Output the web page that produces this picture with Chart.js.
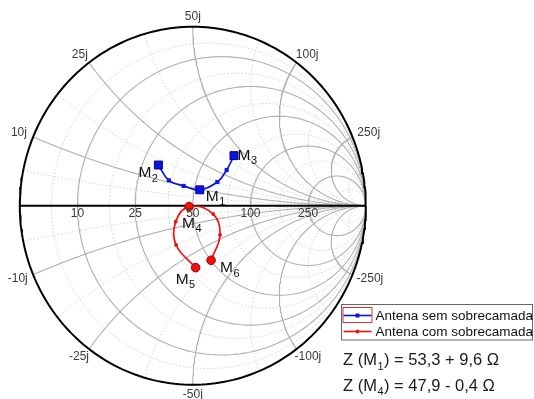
<!DOCTYPE html>
<html>
<head>
<meta charset="utf-8">
<script src="https://cdn.jsdelivr.net/npm/chart.js@4.4.1/dist/chart.umd.min.js"></script>
<style>
  html, body { margin: 0; padding: 0; background: #fff; }
  #wrap { width: 534px; height: 399px; position: relative; }
</style>
</head>
<body>
<div id="wrap"><canvas id="canvas"></canvas></div>
<script>
var Z0 = 50;

// impedance of the two sweeps, ohms
var semR = [30.5, 36.5, 43.9, 53.3, 63.8, 67.1, 65.6];
var semX = [15.3, 10.8, 9.9, 9.6, 17.6, 29.1, 42.5];
var semMarks = ['M2', '', '', 'M1', '', '', 'M3'];

var comR = [40.5, 37.7, 40.4, 47.9, 63.1, 64.4, 50.2];
var comX = [-31.8, -17.5, -7.3, -0.4, -5.9, -22.1, -34.1];
var comMarks = ['M5', '', '', 'M4', '', '', 'M6'];

var seriesNames = ['Antena sem sobrecamada', 'Antena com sobrecamada'];

// smith grid
var gridMajor = [10, 25, 50, 100, 250];
var gridMinor = [5, 17.5, 37.5, 75, 150, 500];
var realTicks = ['10', '25', '50', '100', '250'];
var reactTicks = ['10j', '25j', '50j', '100j', '250j'];

var noteLines = [['Z (M', '1', ') = 53,3 + 9,6 \u03A9'], ['Z (M', '4', ') = 47,9 - 0,4 \u03A9']];

// where the marker names sit, relative to the marker (px)
var markLabelPos = {
  M1: [6, 11], M2: [-20, 12], M3: [3.5, 4],
  M4: [-7, 21], M5: [-20, 16], M6: [9, 12]
};

function gamma(r, x) {
  var a = r / Z0, b = x / Z0;
  var d = (a + 1) * (a + 1) + b * b;
  return { x: (a * a + b * b - 1) / d, y: 2 * b / d };
}

function rCircle(r) {
  var a = r / Z0, c = a / (a + 1), rad = 1 / (a + 1), pts = [];
  for (var i = 0; i <= 240; i++) {
    var t = i / 240 * Math.PI * 2;
    pts.push({ x: c + rad * Math.cos(t), y: rad * Math.sin(t) });
  }
  return pts;
}

function xArc(x) {
  var pts = [];
  for (var i = 0; i < 200; i++) {
    var u = i / 200 * Math.PI / 2;
    pts.push(gamma(Z0 * Math.tan(u), x));
  }
  pts.push({ x: 1, y: 0 });
  return pts;
}

function gridSet(pts, color, width, dash, order) {
  return {
    data: pts, showLine: true, pointRadius: 0, borderColor: color,
    borderWidth: width, borderDash: dash, fill: false, tension: 0,
    order: order, clip: false
  };
}

var datasets = [];

function seriesSet(name, R, X, marks, color, style, big, small) {
  var pts = [], radius = [];
  for (var i = 0; i < R.length; i++) {
    pts.push(gamma(R[i], X[i]));
    radius.push(marks[i] ? big : small);
  }
  return {
    label: name, data: pts, showLine: true, borderColor: color,
    backgroundColor: color, pointBackgroundColor: color,
    pointBorderColor: style == 'rect' ? '#000080' : '#a00000',
    pointBorderWidth: marks.map(function (m) { return m ? 1 : 0; }),
    borderWidth: 1.7, pointStyle: style, pointRadius: radius,
    tension: 0.4, order: 0, marks: marks, clip: false
  };
}

datasets.push(seriesSet(seriesNames[0], semR, semX, semMarks, '#0a14e6', 'rect', 5.6, 2.9));
datasets.push(seriesSet(seriesNames[1], comR, comX, comMarks, '#f01010', 'circle', 4.3, 1.9));

gridMinor.forEach(function (v) {
  datasets.push(gridSet(rCircle(v), '#d2d2d2', 1, [1.5, 2], 30));
  datasets.push(gridSet(xArc(v), '#d2d2d2', 1, [1.5, 2], 30));
  datasets.push(gridSet(xArc(-v), '#d2d2d2', 1, [1.5, 2], 30));
});
gridMajor.forEach(function (v) {
  datasets.push(gridSet(rCircle(v), '#b0b0b0', 1.1, [], 20));
  datasets.push(gridSet(xArc(v), '#b0b0b0', 1.1, [], 20));
  datasets.push(gridSet(xArc(-v), '#b0b0b0', 1.1, [], 20));
});
datasets.push(gridSet(rCircle(0), '#000', 2, [], 10));
datasets.push(gridSet([gamma(0, 0), gamma(1e9, 0)], '#000', 2, [], 10));

function drawSub(ctx, x, y, main, sub, size, after) {
  ctx.font = size + 'px "Liberation Sans", Arial, sans-serif';
  ctx.fillText(main, x, y);
  x += ctx.measureText(main).width;
  ctx.font = Math.round(size * 0.68) + 'px "Liberation Sans", Arial, sans-serif';
  ctx.fillText(sub, x + 0.5, y + size * 0.3);
  x += ctx.measureText(sub).width + 1;
  if (after) {
    ctx.font = size + 'px "Liberation Sans", Arial, sans-serif';
    ctx.fillText(after, x, y);
  }
}

var textPlugin = {
  id: 'smithText',
  afterDatasetsDraw: function (chart) {
    var ctx = chart.ctx, sx = chart.scales.x, sy = chart.scales.y;
    function px(p) { return [sx.getPixelForValue(p.x), sy.getPixelForValue(p.y)]; }
    ctx.save();
    ctx.fillStyle = '#3a3a3a';
    ctx.font = '12px "Liberation Sans", Arial, sans-serif';
    ctx.textAlign = 'center';
    ctx.textBaseline = 'middle';
    // real axis ticks
    gridMajor.forEach(function (v, i) {
      var p = px(gamma(v, 0));
      ctx.fillText(realTicks[i], sx.getPixelForValue((v - Z0) / (v + Z0)), p[1] + 8);
    });
    // reactance ticks on the rim
    gridMajor.forEach(function (v, i) {
      [1, -1].forEach(function (s) {
        var g = gamma(0, s * v), p = px(g);
        var txt = (s < 0 ? '-' : '') + reactTicks[i];
        var w = ctx.measureText(txt).width;
        ctx.fillText(txt, p[0] + g.x * (10 + w / 3), p[1] - g.y * 10);
      });
    });
    // marker names
    ctx.textAlign = 'left';
    ctx.textBaseline = 'alphabetic';
    ctx.fillStyle = '#111';
    chart.data.datasets.forEach(function (ds) {
      if (!ds.marks) return;
      ds.marks.forEach(function (m, i) {
        if (!m) return;
        var p = px(ds.data[i]), off = markLabelPos[m];
        drawSub(ctx, p[0] + off[0], p[1] + off[1], m[0], m.slice(1), 15.5);
      });
    });
    // legend box
    var lx = 341.5, ly = 304.5;
    ctx.strokeStyle = '#666';
    ctx.lineWidth = 1;
    ctx.strokeRect(lx, ly, 191, 35.5);
    ctx.strokeStyle = '#e03030';
    ctx.strokeRect(lx + 1.5, ly + 3, 29, 15);
    chart.data.datasets.slice(0, 2).forEach(function (ds, i) {
      var y = ly + 11 + i * 16;
      ctx.strokeStyle = ds.borderColor;
      ctx.lineWidth = 1.6;
      ctx.beginPath();
      ctx.moveTo(lx + 2, y);
      ctx.lineTo(lx + 30, y);
      ctx.stroke();
      ctx.fillStyle = ds.borderColor;
      if (ds.pointStyle == 'rect') ctx.fillRect(lx + 14, y - 2, 4, 4);
      else { ctx.beginPath(); ctx.arc(lx + 16, y, 2, 0, Math.PI * 2); ctx.fill(); }
      ctx.fillStyle = '#111';
      ctx.font = '13.5px "Liberation Sans", Arial, sans-serif';
      ctx.textBaseline = 'middle';
      ctx.fillText(ds.label, lx + 34, y + 0.5);
    });
    // impedance notes
    ctx.textBaseline = 'alphabetic';
    ctx.fillStyle = '#1a1a1a';
    noteLines.forEach(function (t, i) {
      drawSub(ctx, 343, 365 + i * 25.5, t[0], t[1], 16.5, t[2]);
    });
    ctx.restore();
  }
};

window.onload = function () {
  var ctx = document.getElementById('canvas').getContext('2d');
  window.smith = new Chart(ctx, {
    type: 'scatter',
    data: { datasets: datasets },
    options: {
      responsive: true,
      maintainAspectRatio: false,
      animation: false,
      events: [],
      layout: { padding: { left: 19.8, right: 168.2, top: 26.8, bottom: 14.2 } },
      scales: {
        x: { type: 'linear', min: -1, max: 1, display: false },
        y: { type: 'linear', min: -1, max: 1, display: false }
      },
      plugins: { legend: { display: false }, tooltip: { enabled: false } }
    },
    plugins: [textPlugin]
  });
};
</script>
</body>
</html>
